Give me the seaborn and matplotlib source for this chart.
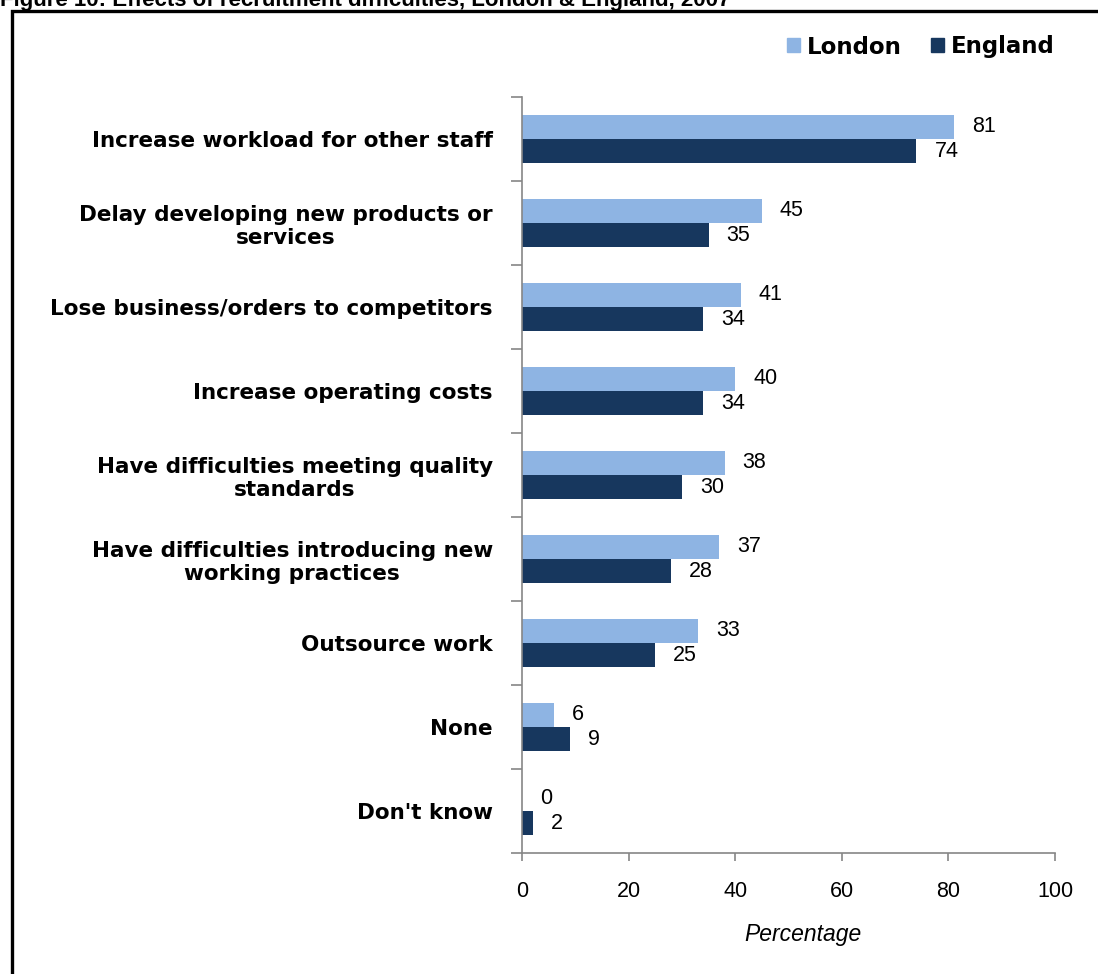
import matplotlib
matplotlib.use("Agg")
import matplotlib.pyplot as plt
import matplotlib.patches as mpatches
import seaborn as sns
import pandas as pd

categories = [
    "Increase workload for other staff",
    "Delay developing new products or\nservices",
    "Lose business/orders to competitors",
    "Increase operating costs",
    "Have difficulties meeting quality\nstandards",
    "Have difficulties introducing new\nworking practices",
    "Outsource work",
    "None",
    "Don't know",
]
london = [81, 45, 41, 40, 38, 37, 33, 6, 0]
england = [74, 35, 34, 34, 30, 28, 25, 9, 2]
series = ["London", "England"]
colors = {"London": "#8EB4E3", "England": "#17375E"}
xticks = [0, 20, 40, 60, 80, 100]
title = "Figure 10: Effects of recruitment difficulties, London & England, 2007"

df = pd.DataFrame({
    "category": categories * 2,
    "value": london + england,
    "series": ["London"] * len(categories) + ["England"] * len(categories),
})

sns.set_theme(style="white")
plt.rcParams["font.family"] = ["Liberation Sans", "DejaVu Sans"]
plt.rcParams["text.color"] = "black"
plt.rcParams["axes.labelcolor"] = "black"
plt.rcParams["xtick.color"] = "black"
plt.rcParams["ytick.color"] = "black"

fig = plt.figure(figsize=(10.98, 9.74), dpi=100)
ax = fig.add_axes([522 / 1098, 1 - 853 / 974, (1055 - 522) / 1098, (853 - 97) / 974])

sns.barplot(data=df, y="category", x="value", hue="series", orient="h",
            palette=colors, hue_order=series, order=categories,
            width=0.58, gap=0, ax=ax, legend=False, saturation=1,
            edgecolor="none")

for cont in ax.containers:
    ax.bar_label(cont, labels=[f"{int(v)}" for v in cont.datavalues],
                 padding=13, fontsize=15.5, color="black")

ax.set_xlim(0, 100)
ax.set_xticks(xticks)
ax.set_xticklabels([str(t) for t in xticks], fontsize=15.5, color="black")
ax.set_ylim(len(categories) - 0.5, -0.5)
ax.set_yticks(range(len(categories)))
ax.set_yticklabels(categories, fontsize=15.5, fontweight="bold", color="black",
                   family=["DejaVu Sans"])
for lab in ax.get_yticklabels():
    lab.set_multialignment("center")
ax.set_ylabel("")
ax.set_xlabel("Percentage", fontsize=16.5, style="italic", color="black")
ax.xaxis.set_label_coords(0.527, -0.093)

# y ticks at category boundaries
ax.set_yticks([i - 0.5 for i in range(len(categories) + 1)], minor=True)
ax.tick_params(axis="y", which="major", length=0, pad=21)
ax.tick_params(axis="y", which="minor", length=8, width=1.2, color="#868686", direction="out", left=True)
ax.tick_params(axis="x", which="major", length=6, width=1.2, color="#868686", labelcolor="black",
               direction="out", bottom=True, pad=14)

for s in ["top", "right"]:
    ax.spines[s].set_visible(False)
for s in ["left", "bottom"]:
    ax.spines[s].set_color("#868686")
    ax.spines[s].set_linewidth(1.2)

handles = [mpatches.Patch(color=colors[s], label=s) for s in series]
fig.legend(handles=handles, loc="center right", bbox_to_anchor=(1075 / 1098, 1 - 47 / 974),
           ncol=2, frameon=False, prop={"size": 16.5, "weight": "bold", "family": "DejaVu Sans"},
           handlelength=0.55, handleheight=0.55, handletextpad=0.3, columnspacing=1.3,
           labelcolor="black")

# border box
fig.add_artist(mpatches.Rectangle((12 / 1098, -0.1), 1.2, 1 - 11 / 974 + 0.1,
                                  transform=fig.transFigure, fill=False,
                                  edgecolor="black", linewidth=2.4, clip_on=False))

fig.text(0.0, 1 - 6 / 974, title, fontsize=16, fontweight="bold", ha="left", va="baseline")

fig.savefig("out.png", dpi=100, facecolor="white")
